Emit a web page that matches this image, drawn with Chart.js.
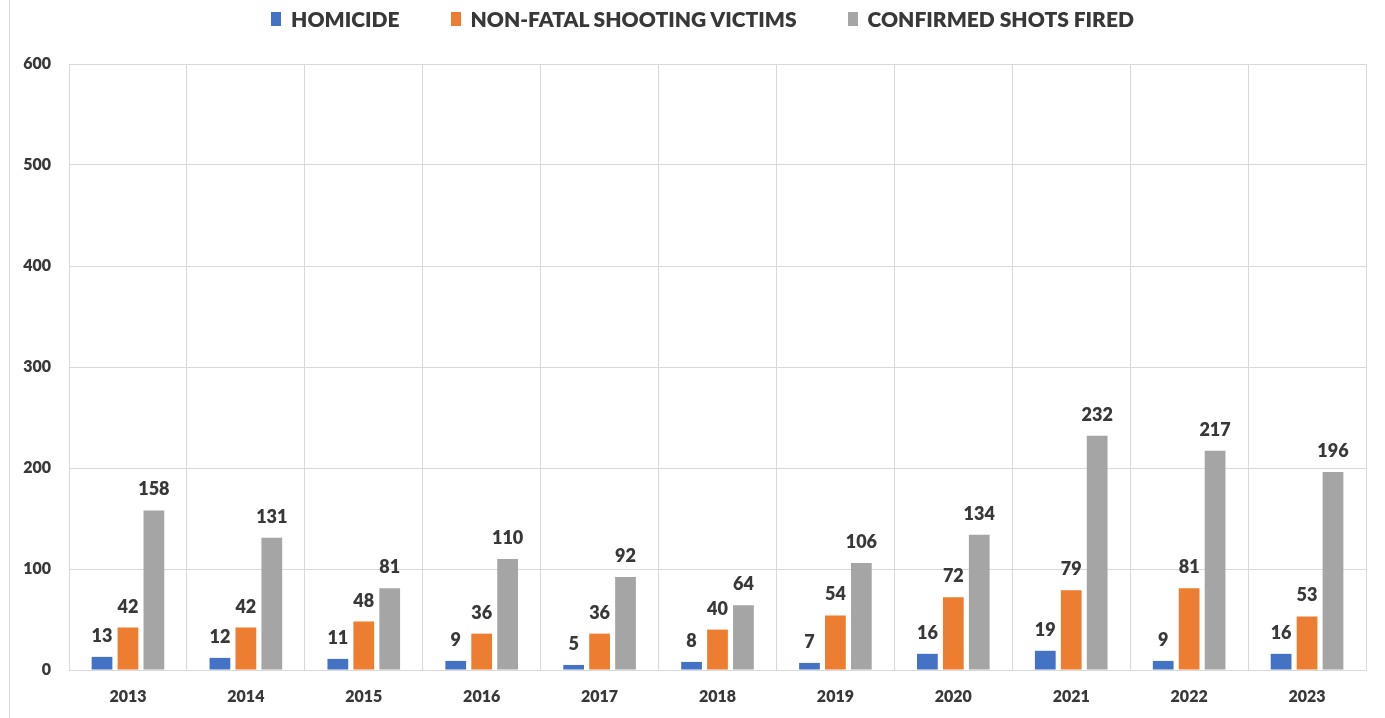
<!DOCTYPE html>
<html>
<head>
<meta charset="utf-8">
<script src="https://cdn.jsdelivr.net/npm/chart.js@4"></script>
<style>
  html, body { margin: 0; padding: 0; background: #fff; }
  #wrap { position: relative; width: 1385px; height: 718px; overflow: hidden; }
  #c { position: absolute; left: 0; top: 0; }
  #edge { position: absolute; left: 9px; top: 0; width: 1px; height: 718px; background: #d9d9d9; }
  #legend { position: absolute; left: 22px; top: 6px; width: 1361px; display: flex; justify-content: center; gap: 51px;
            font-family: Lato, sans-serif; font-weight: 800; font-size: 21px; color: #383838; line-height: 26px; }
  .item { display: flex; align-items: center; }
  .sw { display: inline-block; width: 10px; height: 14px; margin-right: 10px; }
</style>
</head>
<body>
<div id="wrap">
  <canvas id="c" width="1385" height="718"></canvas>
  <div id="edge"></div>
  <div id="legend"></div>
</div>
<script>
const years = ['2013','2014','2015','2016','2017','2018','2019','2020','2021','2022','2023'];
const homicide = [13, 12, 11, 9, 5, 8, 7, 16, 19, 9, 16];
const nonFatal = [42, 42, 48, 36, 36, 40, 54, 72, 79, 81, 53];
const shotsFired = [158, 131, 81, 110, 92, 64, 106, 134, 232, 217, 196];
const seriesNames = ['HOMICIDE', 'NON-FATAL SHOOTING VICTIMS', 'CONFIRMED SHOTS FIRED'];
const seriesColors = ['#4472C4', '#ED7D31', '#A5A5A5'];
const yTicks = [0, 100, 200, 300, 400, 500, 600];

const textColor = '#383838';
const fontFamily = 'Lato, sans-serif';

const labelPlugin = {
  id: 'barLabels',
  afterDatasetsDraw(chart) {
    const ctx = chart.ctx;
    ctx.save();
    ctx.font = '800 18px ' + fontFamily;
    ctx.fillStyle = textColor;
    ctx.textAlign = 'center';
    ctx.textBaseline = 'alphabetic';
    chart.data.datasets.forEach((ds, di) => {
      const meta = chart.getDatasetMeta(di);
      meta.data.forEach((bar, i) => {
        ctx.fillText(String(ds.data[i]), bar.x, bar.y - 15);
      });
    });
    ctx.restore();
  }
};

// HTML legend built from series arrays
const leg = document.getElementById('legend');
seriesNames.forEach((n, i) => {
  const it = document.createElement('span');
  it.className = 'item';
  const sw = document.createElement('span');
  sw.className = 'sw';
  sw.style.background = seriesColors[i];
  it.appendChild(sw);
  it.appendChild(document.createTextNode(n));
  leg.appendChild(it);
});

const seriesData = [homicide, nonFatal, shotsFired];

new Chart(document.getElementById('c'), {
  type: 'bar',
  data: {
    labels: years,
    datasets: seriesNames.map((n, i) => ({
      label: n,
      data: seriesData[i],
      backgroundColor: seriesColors[i],
      categoryPercentage: 0.66,
      barPercentage: 0.8
    }))
  },
  options: {
    responsive: false,
    animation: false,
    devicePixelRatio: 1,
    layout: { padding: { top: 64, right: 19, left: 9, bottom: 0 } },
    plugins: {
      legend: { display: false },
      tooltip: { enabled: false }
    },
    scales: {
      x: {
        grid: { color: '#d9d9d9', drawTicks: false, lineWidth: 1 },
        border: { color: '#d9d9d9' },
        ticks: { color: textColor, font: { family: fontFamily, weight: 800, size: 16 }, padding: 17, maxRotation: 0 },
        afterFit(s) { s.height = 48; }
      },
      y: {
        min: 0, max: 600,
        afterBuildTicks(s) { s.ticks = yTicks.map(v => ({ value: v })); },
        grid: { color: '#d9d9d9', drawTicks: false, lineWidth: 1 },
        border: { color: '#d9d9d9' },
        ticks: { color: textColor, font: { family: fontFamily, weight: 800, size: 16 }, padding: 18 },
        afterFit(s) { s.width = 60; }
      }
    }
  },
  plugins: [labelPlugin]
});
</script>
</body>
</html>
